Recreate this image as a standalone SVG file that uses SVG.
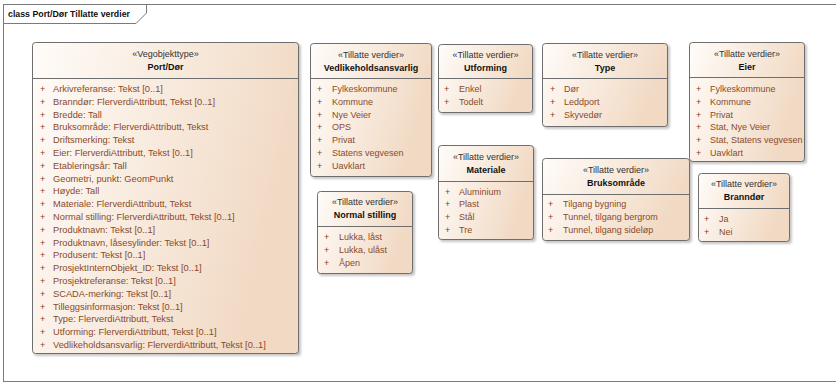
<svg xmlns="http://www.w3.org/2000/svg" width="836" height="383" viewBox="0 0 836 383">
<style>
text{font-family:"Liberation Sans",Arial,sans-serif;font-size:9px}
.box{fill:url(#fill);stroke:#6e6e6e;stroke-width:1}
.sh{fill:#000;opacity:.22;filter:url(#blur)}
.sep{stroke:#6e6e6e;stroke-width:1}
.st{fill:#333;text-anchor:middle}
.nm{fill:#111;font-weight:bold;text-anchor:middle}
.pl{fill:#8a3d1c}
.at{fill:#8a4a2a}
.big{font-size:9.3px}
.frame{fill:none;stroke:#7a7a7a;stroke-width:1}
.ttl{fill:#111;font-weight:bold}
</style>
<defs>
<linearGradient id="fill" x1="0" y1="0" x2="1" y2="0.3">
<stop offset="0" stop-color="#fffcf9"/>
<stop offset="1" stop-color="#f1d9c3"/>
</linearGradient>
<filter id="blur" x="-10%" y="-10%" width="120%" height="120%"><feGaussianBlur stdDeviation="1"/></filter>
</defs>
<rect width="836" height="383" fill="#fff"/>
<g id="frame">
<rect class="frame" x="3.5" y="4.5" width="833" height="377"/>
<path class="frame" d="M3.5,23.5 H136 L146.5,13 V4.5"/>
<text class="ttl" x="8" y="17" textLength="122" lengthAdjust="spacingAndGlyphs">class Port/Dør Tillatte verdier</text>
</g>
<g id="connectors"/>
<g id="port-dor">
<rect class="sh" x="34" y="44" width="267" height="312" rx="3"/>
<rect class="box" x="32.5" y="42.5" width="266" height="311" rx="3"/>
<line class="sep" x1="32.5" y1="78.5" x2="298.5" y2="78.5"/>
<text class="st" x="165.5" y="57">«Vegobjekttype»</text>
<text class="nm" x="165.5" y="70">Port/Dør</text>
<text class="pl"><tspan x="40" y="92">+</tspan><tspan x="40" dy="12.8">+</tspan><tspan x="40" dy="12.8">+</tspan><tspan x="40" dy="12.8">+</tspan><tspan x="40" dy="12.8">+</tspan><tspan x="40" dy="12.8">+</tspan><tspan x="40" dy="12.8">+</tspan><tspan x="40" dy="12.8">+</tspan><tspan x="40" dy="12.8">+</tspan><tspan x="40" dy="12.8">+</tspan><tspan x="40" dy="12.8">+</tspan><tspan x="40" dy="12.8">+</tspan><tspan x="40" dy="12.8">+</tspan><tspan x="40" dy="12.8">+</tspan><tspan x="40" dy="12.8">+</tspan><tspan x="40" dy="12.8">+</tspan><tspan x="40" dy="12.8">+</tspan><tspan x="40" dy="12.8">+</tspan><tspan x="40" dy="12.8">+</tspan><tspan x="40" dy="12.8">+</tspan><tspan x="40" dy="12.8">+</tspan></text>
<text class="at big"><tspan x="53" y="92">Arkivreferanse: Tekst [0..1]</tspan><tspan x="53" dy="12.8">Branndør: FlerverdiAttributt, Tekst [0..1]</tspan><tspan x="53" dy="12.8">Bredde: Tall</tspan><tspan x="53" dy="12.8">Bruksområde: FlerverdiAttributt, Tekst</tspan><tspan x="53" dy="12.8">Driftsmerking: Tekst</tspan><tspan x="53" dy="12.8">Eier: FlerverdiAttributt, Tekst [0..1]</tspan><tspan x="53" dy="12.8">Etableringsår: Tall</tspan><tspan x="53" dy="12.8">Geometri, punkt: GeomPunkt</tspan><tspan x="53" dy="12.8">Høyde: Tall</tspan><tspan x="53" dy="12.8">Materiale: FlerverdiAttributt, Tekst</tspan><tspan x="53" dy="12.8">Normal stilling: FlerverdiAttributt, Tekst [0..1]</tspan><tspan x="53" dy="12.8">Produktnavn: Tekst [0..1]</tspan><tspan x="53" dy="12.8">Produktnavn, låsesylinder: Tekst [0..1]</tspan><tspan x="53" dy="12.8">Produsent: Tekst [0..1]</tspan><tspan x="53" dy="12.8">ProsjektInternObjekt_ID: Tekst [0..1]</tspan><tspan x="53" dy="12.8">Prosjektreferanse: Tekst [0..1]</tspan><tspan x="53" dy="12.8">SCADA-merking: Tekst [0..1]</tspan><tspan x="53" dy="12.8">Tilleggsinformasjon: Tekst [0..1]</tspan><tspan x="53" dy="12.8">Type: FlerverdiAttributt, Tekst</tspan><tspan x="53" dy="12.8">Utforming: FlerverdiAttributt, Tekst [0..1]</tspan><tspan x="53" dy="12.8">Vedlikeholdsansvarlig: FlerverdiAttributt, Tekst [0..1]</tspan></text>
</g>
<g id="vedlikeholdsansvarlig">
<rect class="sh" x="312" y="45" width="122" height="134" rx="3"/>
<rect class="box" x="310.5" y="43.5" width="121" height="133" rx="3"/>
<line class="sep" x1="310.5" y1="78.5" x2="431.5" y2="78.5"/>
<text class="st" x="371" y="58">«Tillatte verdier»</text>
<text class="nm" x="371" y="71">Vedlikeholdsansvarlig</text>
<text class="pl"><tspan x="317" y="92">+</tspan><tspan x="317" dy="12.8">+</tspan><tspan x="317" dy="12.8">+</tspan><tspan x="317" dy="12.8">+</tspan><tspan x="317" dy="12.8">+</tspan><tspan x="317" dy="12.8">+</tspan><tspan x="317" dy="12.8">+</tspan></text>
<text class="at"><tspan x="332" y="92">Fylkeskommune</tspan><tspan x="332" dy="12.8">Kommune</tspan><tspan x="332" dy="12.8">Nye Veier</tspan><tspan x="332" dy="12.8">OPS</tspan><tspan x="332" dy="12.8">Privat</tspan><tspan x="332" dy="12.8">Statens vegvesen</tspan><tspan x="332" dy="12.8">Uavklart</tspan></text>
</g>
<g id="utforming">
<rect class="sh" x="440" y="46" width="95" height="69" rx="3"/>
<rect class="box" x="438.5" y="44.5" width="94" height="68" rx="3"/>
<line class="sep" x1="438.5" y1="78.5" x2="532.5" y2="78.5"/>
<text class="st" x="485.5" y="58">«Tillatte verdier»</text>
<text class="nm" x="485.5" y="71">Utforming</text>
<text class="pl"><tspan x="444" y="92">+</tspan><tspan x="444" dy="12.8">+</tspan></text>
<text class="at"><tspan x="459" y="92">Enkel</tspan><tspan x="459" dy="12.8">Todelt</tspan></text>
</g>
<g id="type">
<rect class="sh" x="544" y="45" width="126" height="84" rx="3"/>
<rect class="box" x="542.5" y="43.5" width="125" height="83" rx="3"/>
<line class="sep" x1="542.5" y1="78.5" x2="667.5" y2="78.5"/>
<text class="st" x="605" y="58">«Tillatte verdier»</text>
<text class="nm" x="605" y="71">Type</text>
<text class="pl"><tspan x="550" y="92">+</tspan><tspan x="550" dy="12.8">+</tspan><tspan x="550" dy="12.8">+</tspan></text>
<text class="at"><tspan x="564" y="92">Dør</tspan><tspan x="564" dy="12.8">Leddport</tspan><tspan x="564" dy="12.8">Skyvedør</tspan></text>
</g>
<g id="eier">
<rect class="sh" x="691" y="44" width="116" height="120" rx="3"/>
<rect class="box" x="689.5" y="42.5" width="115" height="119" rx="3"/>
<line class="sep" x1="689.5" y1="77.5" x2="804.5" y2="77.5"/>
<text class="st" x="747" y="57">«Tillatte verdier»</text>
<text class="nm" x="747" y="70">Eier</text>
<text class="pl"><tspan x="696" y="92">+</tspan><tspan x="696" dy="12.8">+</tspan><tspan x="696" dy="12.8">+</tspan><tspan x="696" dy="12.8">+</tspan><tspan x="696" dy="12.8">+</tspan><tspan x="696" dy="12.8">+</tspan></text>
<text class="at"><tspan x="710" y="92">Fylkeskommune</tspan><tspan x="710" dy="12.8">Kommune</tspan><tspan x="710" dy="12.8">Privat</tspan><tspan x="710" dy="12.8">Stat, Nye Veier</tspan><tspan x="710" dy="12.8">Stat, Statens vegvesen</tspan><tspan x="710" dy="12.8">Uavklart</tspan></text>
</g>
<g id="normal-stilling">
<rect class="sh" x="319" y="193" width="96" height="83" rx="3"/>
<rect class="box" x="317.5" y="191.5" width="95" height="82" rx="3"/>
<line class="sep" x1="317.5" y1="226.5" x2="412.5" y2="226.5"/>
<text class="st" x="365" y="205">«Tillatte verdier»</text>
<text class="nm" x="365" y="218">Normal stilling</text>
<text class="pl"><tspan x="324" y="240">+</tspan><tspan x="324" dy="12.8">+</tspan><tspan x="324" dy="12.8">+</tspan></text>
<text class="at"><tspan x="339" y="240">Lukka, låst</tspan><tspan x="339" dy="12.8">Lukka, ulåst</tspan><tspan x="339" dy="12.8">Åpen</tspan></text>
</g>
<g id="materiale">
<rect class="sh" x="440" y="147" width="96" height="95" rx="3"/>
<rect class="box" x="438.5" y="145.5" width="95" height="94" rx="3"/>
<line class="sep" x1="438.5" y1="181.5" x2="533.5" y2="181.5"/>
<text class="st" x="486" y="160">«Tillatte verdier»</text>
<text class="nm" x="486" y="173">Materiale</text>
<text class="pl"><tspan x="445" y="194.5">+</tspan><tspan x="445" dy="12.8">+</tspan><tspan x="445" dy="12.8">+</tspan><tspan x="445" dy="12.8">+</tspan></text>
<text class="at"><tspan x="459" y="194.5">Aluminium</tspan><tspan x="459" dy="12.8">Plast</tspan><tspan x="459" dy="12.8">Stål</tspan><tspan x="459" dy="12.8">Tre</tspan></text>
</g>
<g id="bruksomrade">
<rect class="sh" x="544" y="160" width="148" height="83" rx="3"/>
<rect class="box" x="542.5" y="158.5" width="147" height="82" rx="3"/>
<line class="sep" x1="542.5" y1="194.5" x2="689.5" y2="194.5"/>
<text class="st" x="616" y="173">«Tillatte verdier»</text>
<text class="nm" x="616" y="186">Bruksområde</text>
<text class="pl"><tspan x="548" y="207">+</tspan><tspan x="548" dy="12.8">+</tspan><tspan x="548" dy="12.8">+</tspan></text>
<text class="at"><tspan x="563" y="207">Tilgang bygning</tspan><tspan x="563" dy="12.8">Tunnel, tilgang bergrom</tspan><tspan x="563" dy="12.8">Tunnel, tilgang sideløp</tspan></text>
</g>
<g id="branndor">
<rect class="sh" x="700" y="175" width="92" height="69" rx="3"/>
<rect class="box" x="698.5" y="173.5" width="91" height="68" rx="3"/>
<line class="sep" x1="698.5" y1="208.5" x2="789.5" y2="208.5"/>
<text class="st" x="744" y="187">«Tillatte verdier»</text>
<text class="nm" x="744" y="200">Branndør</text>
<text class="pl"><tspan x="704" y="222">+</tspan><tspan x="704" dy="12.8">+</tspan></text>
<text class="at"><tspan x="719" y="222">Ja</tspan><tspan x="719" dy="12.8">Nei</tspan></text>
</g>
</svg>
